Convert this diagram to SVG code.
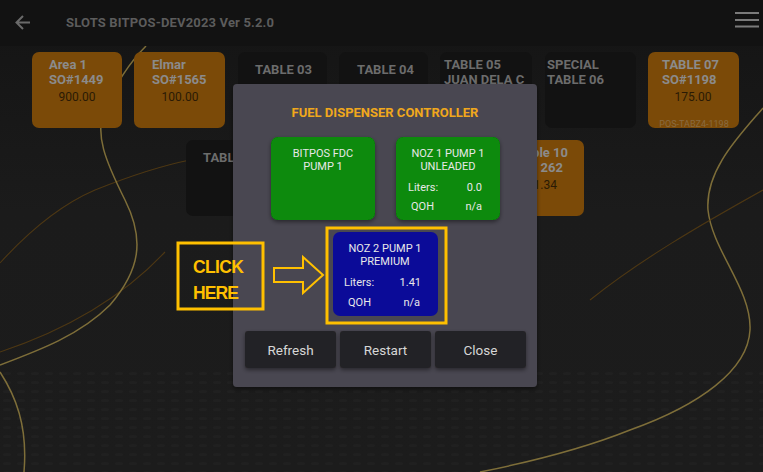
<svg xmlns="http://www.w3.org/2000/svg" width="763" height="472" viewBox="0 0 763 472">
<defs>
<style>
.f{font-family:Roboto,"Liberation Sans",sans-serif}
.tb{font-weight:bold;font-size:13px;fill:#8b8b8b}
.td{font-weight:bold;font-size:13px;fill:#6c6c6c}
.amt{font-size:12px;fill:#2a1a05}
.orange{fill:#7b4a08}
.dark{fill:#121212}
.wt{font-size:11px;fill:#e8e8e8}
.btn{fill:#242226}
.btxt{font-size:13.5px;fill:#d6d6d6}
.hl{fill:none;stroke:#ffc000;stroke-width:3}
.gold{fill:none;stroke:#8f7d3e;stroke-width:1.5;stroke-opacity:0.85}
.thin{fill:none;stroke:#5a3e12;stroke-width:1.1;stroke-opacity:0.8}
</style>
<linearGradient id="bg" x1="0" y1="0" x2="0" y2="1">
<stop offset="0" stop-color="#141414"/>
<stop offset="0.45" stop-color="#1b1b1b"/>
<stop offset="1" stop-color="#1c1c1c"/>
</linearGradient>
<filter id="sh" x="-10%" y="-10%" width="120%" height="130%">
<feDropShadow dx="0" dy="2" stdDeviation="2" flood-color="#000" flood-opacity="0.45"/>
</filter>
<pattern id="dots" width="14" height="9" patternUnits="userSpaceOnUse">
<ellipse cx="7" cy="4.5" rx="4" ry="1.5" fill="#252525"/>
</pattern>
</defs>

<!-- background -->
<rect width="763" height="472" fill="url(#bg)"/>
<rect x="0" y="370" width="763" height="102" fill="url(#dots)" opacity="0.5"/>
<g id="curves">
<path class="thin" d="M0 263 C30 230 60 205 95 190 C130 176 160 166 190 160"/>
<path class="thin" d="M0 352 C60 332 120 300 165 252"/>
<path class="gold" d="M146 46 Q122 70 104 110 C95 135 105 160 125 200 C145 240 140 270 110 305 C80 335 40 350 0 365"/>
<path class="gold" d="M0 372 C15 395 28 425 24 472" stroke="#8a6c28"/>
<path class="gold" d="M763 108 C740 135 705 170 708 210 C712 250 752 290 750 330 C748 370 700 405 630 430 C580 450 530 462 480 472" stroke="#86702e"/>
<path class="thin" d="M763 190 C700 225 640 260 590 300"/>
</g>

<!-- top bar -->
<g id="topbar">
<rect width="763" height="46" fill="#121212"/>
<path d="M30 22.5 H17 M23 16 L16.5 22.5 L23 29" fill="none" stroke="#6a6a6a" stroke-width="2"/>
<text class="f" x="66" y="26.5" font-weight="bold" font-size="13" fill="#5c5c5c" textLength="208">SLOTS BITPOS-DEV2023 Ver 5.2.0</text>
<path d="M735 13 H759 M735 20 H759 M735 26.5 H759" stroke="#7a7a7a" stroke-width="2"/>
</g>

<!-- tiles row 1 -->
<g id="area1"><rect class="orange" x="32" y="52" width="90" height="76" rx="7"/>
<text class="f tb" x="49" y="69">Area 1</text><text class="f tb" x="49" y="84">SO#1449</text>
<text class="f amt" x="77" y="101" text-anchor="middle">900.00</text></g>
<g id="elmar"><rect class="orange" x="134" y="52" width="91" height="76" rx="7"/>
<text class="f tb" x="152" y="69">Elmar</text><text class="f tb" x="152" y="84">SO#1565</text>
<text class="f amt" x="180" y="101" text-anchor="middle">100.00</text></g>
<g id="table03"><rect class="dark" x="238" y="52" width="89" height="76" rx="7"/>
<text class="f td" x="255" y="74">TABLE 03</text></g>
<g id="table04"><rect class="dark" x="339" y="52" width="89" height="76" rx="7"/>
<text class="f td" x="357" y="74">TABLE 04</text></g>
<g id="table05"><rect class="dark" x="440" y="52" width="92" height="76" rx="7"/>
<text class="f td" x="444" y="69">TABLE 05</text><text class="f td" x="444" y="84">JUAN DELA C</text></g>
<g id="table06"><rect class="dark" x="545" y="52" width="91" height="76" rx="7"/>
<text class="f td" x="547" y="69">SPECIAL</text><text class="f td" x="547" y="84">TABLE 06</text></g>
<g id="table07"><rect class="orange" x="648" y="52" width="91" height="76" rx="7"/>
<text class="f tb" x="662" y="69">TABLE 07</text><text class="f tb" x="662" y="84">SO#1198</text>
<text class="f amt" x="693" y="101" text-anchor="middle">175.00</text>
<text class="f" x="694" y="127" text-anchor="middle" font-size="9" fill="#8a6a40">POS-TABZ4-1198</text></g>

<!-- tiles row 2 -->
<g id="table08"><rect class="dark" x="186" y="140" width="90" height="76" rx="7"/>
<text class="f td" x="203" y="162">TABL</text></g>
<g id="table10"><rect class="orange" x="494" y="140" width="90" height="76" rx="7"/>
<text class="f tb" x="568" y="157" text-anchor="end">ble 10</text>
<text class="f tb" x="563" y="172" text-anchor="end">262</text>
<text class="f amt" x="557" y="189" text-anchor="end">1.34</text></g>

<!-- dialog -->
<g id="dialog">
<rect x="233" y="84" width="304" height="303" rx="4" fill="#4a4751" filter="url(#sh)"/>
<text class="f" x="385" y="117" text-anchor="middle" font-weight="bold" font-size="13" fill="#f0a81c">FUEL DISPENSER CONTROLLER</text>
</g>
<g id="fdc"><rect x="271" y="137" width="104" height="83" rx="7" fill="#078a07" filter="url(#sh)"/>
<text class="f wt" x="323" y="157" text-anchor="middle">BITPOS FDC</text>
<text class="f wt" x="323" y="170" text-anchor="middle">PUMP 1</text></g>
<g id="noz1"><rect x="396" y="137" width="104" height="83" rx="7" fill="#078a07" filter="url(#sh)"/>
<text class="f wt" x="448" y="157" text-anchor="middle">NOZ 1 PUMP 1</text>
<text class="f wt" x="448" y="170" text-anchor="middle">UNLEADED</text>
<text class="f wt" x="408" y="191">Liters:</text><text class="f wt" x="482" y="191" text-anchor="end">0.0</text>
<text class="f wt" x="411" y="210">QOH</text><text class="f wt" x="482" y="210" text-anchor="end">n/a</text></g>
<g id="noz2"><rect x="333" y="232" width="105" height="84" rx="7" fill="#0b0b98"/>
<text class="f wt" x="385" y="252" text-anchor="middle">NOZ 2 PUMP 1</text>
<text class="f wt" x="385" y="265" text-anchor="middle">PREMIUM</text>
<text class="f wt" x="344" y="286">Liters:</text><text class="f wt" x="421" y="286" text-anchor="end">1.41</text>
<text class="f wt" x="348" y="306">QOH</text><text class="f wt" x="420" y="306" text-anchor="end">n/a</text>
<rect class="hl" x="327" y="228" width="119" height="95"/></g>

<g id="refresh"><rect class="btn" x="245" y="331" width="91" height="37" rx="3" filter="url(#sh)"/>
<text class="f btxt" x="290.5" y="355" text-anchor="middle">Refresh</text></g>
<g id="restart"><rect class="btn" x="340" y="331" width="91" height="37" rx="3" filter="url(#sh)"/>
<text class="f btxt" x="385.5" y="355" text-anchor="middle">Restart</text></g>
<g id="close"><rect class="btn" x="435" y="331" width="91" height="37" rx="3" filter="url(#sh)"/>
<text class="f btxt" x="480.5" y="355" text-anchor="middle">Close</text></g>

<!-- callout -->
<g id="clickhere">
<rect class="hl" x="178" y="243" width="85" height="66"/>
<text x="193" y="273" font-family="'Liberation Sans',sans-serif" font-weight="bold" font-size="17.5" fill="#ffc000" textLength="51">CLICK</text>
<text x="193" y="299" font-family="'Liberation Sans',sans-serif" font-weight="bold" font-size="17.5" fill="#ffc000" textLength="46">HERE</text>
</g>
<g id="connectors">
<polygon points="274,268 303,268 303,257 323,275 303,293 303,282 274,282" fill="none" stroke="#ffc000" stroke-width="2" stroke-linejoin="miter"/>
</g>
</svg>
